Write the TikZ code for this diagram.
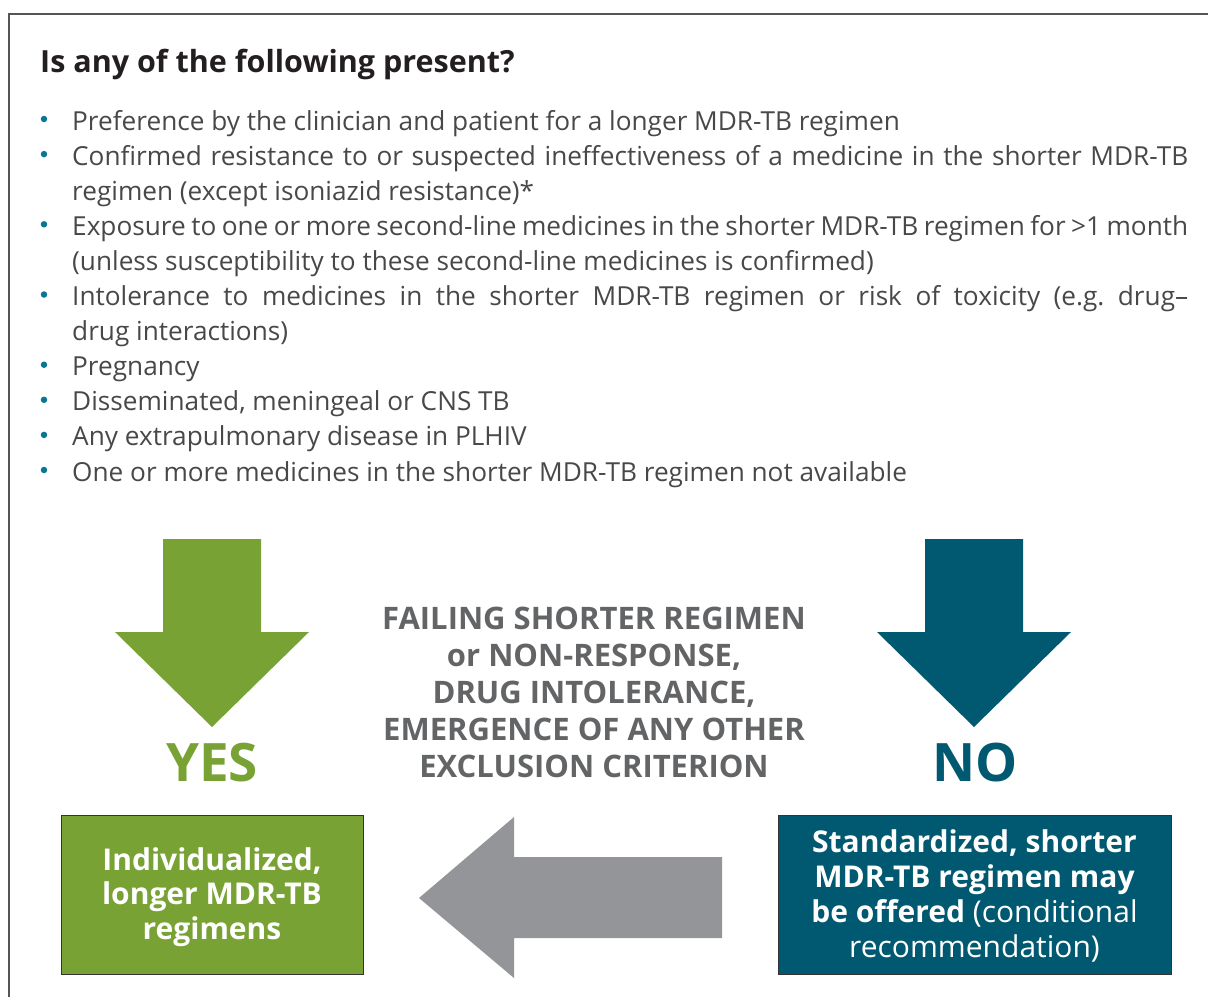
\documentclass[tikz,border=0pt]{standalone}
\usepackage{fontspec}
\setmainfont{Open Sans}
\newfontfamily\bodyfont{Open Sans}
\definecolor{titlecol}{RGB}{35,31,32}
\definecolor{bodycol}{RGB}{72,72,74}
\definecolor{dotcol}{RGB}{10,118,148}
\definecolor{yescol}{RGB}{120,162,52}
\definecolor{nocol}{RGB}{0,89,112}
\definecolor{arrowgray}{RGB}{147,149,152}
\definecolor{midgray}{RGB}{99,100,102}
\definecolor{framecol}{RGB}{85,85,85}
\begin{document}
\begin{tikzpicture}[x=1pt,y=-1pt,
  bodytext/.style={anchor=base west,inner sep=0pt,text=bodycol,font=\bodyfont\frenchspacing\fontsize{26.2}{35}\selectfont},
  bulletdot/.style={circle,fill=dotcol,inner sep=0pt,minimum size=6.5pt},
  boxgreen/.style={draw=black!80,line width=1pt,fill=yescol,inner sep=0pt},
  boxteal/.style={draw=black!80,line width=1pt,fill=nocol,inner sep=0pt},
  boxtext/.style={anchor=base,inner sep=0pt,align=center,text=white,font=\bfseries\fontsize{30}{34.5}\selectfont},
  answer/.style={anchor=base,inner sep=0pt,font=\bfseries\fontsize{53}{53}\selectfont}]
\useasboundingbox (0,0) rectangle (1208,997);
% frame
\draw[framecol,line width=1.5pt] (9,997) -- (9,14) -- (1208,14);
% title
\node[anchor=base west,inner sep=0pt,text=titlecol,font=\bfseries\fontsize{30.5}{30}\selectfont] (title) at (40,72) {Is any of the following present?};
% bullets
\def\yy#1{130+35.1*#1}
\foreach \i/\r in {0/0,1/1,2/3,3/5,4/7,5/8,6/9,7/10}{
  \node[bulletdot] (dot\i) at (44,{\yy{\r}-11}) {};
}
\node[bodytext] (l0) at (72,{\yy{0}}) {Preference by the clinician and patient for a longer MDR-TB regimen};
\node[bodytext] (l1) at (72,{\yy{1}}) {\makebox[1116pt][s]{Confirmed resistance to or suspected ineffectiveness of a medicine in the shorter MDR-TB}};
\node[bodytext] (l2) at (72,{\yy{2}}) {regimen (except isoniazid resistance)*};
\node[bodytext] (l3) at (72,{\yy{3}}) {\makebox[1116pt][s]{Exposure to one or more second-line medicines in the shorter MDR-TB regimen for >1 month}};
\node[bodytext] (l4) at (72,{\yy{4}}) {(unless susceptibility to these second-line medicines is confirmed)};
\node[bodytext] (l5) at (72,{\yy{5}}) {\makebox[1116pt][s]{Intolerance to medicines in the shorter MDR-TB regimen or risk of toxicity (e.g. drug–}};
\node[bodytext] (l6) at (72,{\yy{6}}) {drug interactions)};
\node[bodytext] (l7) at (72,{\yy{7}}) {Pregnancy};
\node[bodytext] (l8) at (72,{\yy{8}}) {Disseminated, meningeal or CNS TB};
\node[bodytext] (l9) at (72,{\yy{9}}) {Any extrapulmonary disease in PLHIV};
\node[bodytext] (l10) at (72,{\yy{10}}) {One or more medicines in the shorter MDR-TB regimen not available};
% down arrows
\fill[yescol] (163,539) -- (261,539) -- (261,632) -- (309,632) -- (212,727) -- (115,632) -- (163,632) -- cycle;
\fill[nocol] (925,539) -- (1023,539) -- (1023,632) -- (1071,632) -- (974,727) -- (877,632) -- (925,632) -- cycle;
% left arrow
\fill[arrowgray] (722,857) -- (514,857) -- (514,817) -- (419,898) -- (514,978) -- (514,938) -- (722,938) -- cycle;
% answers
\node[answer,text=yescol] (yes) at (212,781) {YES};
\node[answer,text=nocol] (no) at (975,781) {NO};
% center text (base anchor = last line)
\node[anchor=base,inner sep=0pt,align=center,text=midgray,font=\bfseries\fontsize{31}{37}\selectfont] (crit) at (594,777)
 {FAILING SHORTER REGIMEN\\ or NON-RESPONSE,\\ DRUG INTOLERANCE,\\ EMERGENCE OF ANY OTHER\\ EXCLUSION CRITERION};
% boxes
\node[boxgreen,minimum width=302pt,minimum height=159pt] (longer) at (212,894.5) {};
\node[boxtext,font=\bfseries\fontsize{30}{34.2}\selectfont] (longertext) at (212,939)
 {Individualized,\\ longer MDR-TB\\ regimens};
\node[boxteal,minimum width=393pt,minimum height=159pt] (shorter) at (974.5,894.5) {};
\node[boxtext,font=\bfseries\fontsize{30}{34.7}\selectfont] (shortertext) at (974.5,957)
 {Standardized, shorter\\ MDR-TB regimen may\\ be offered {\mdseries(conditional}\\ {\mdseries recommendation)}};
\end{tikzpicture}
\end{document}
